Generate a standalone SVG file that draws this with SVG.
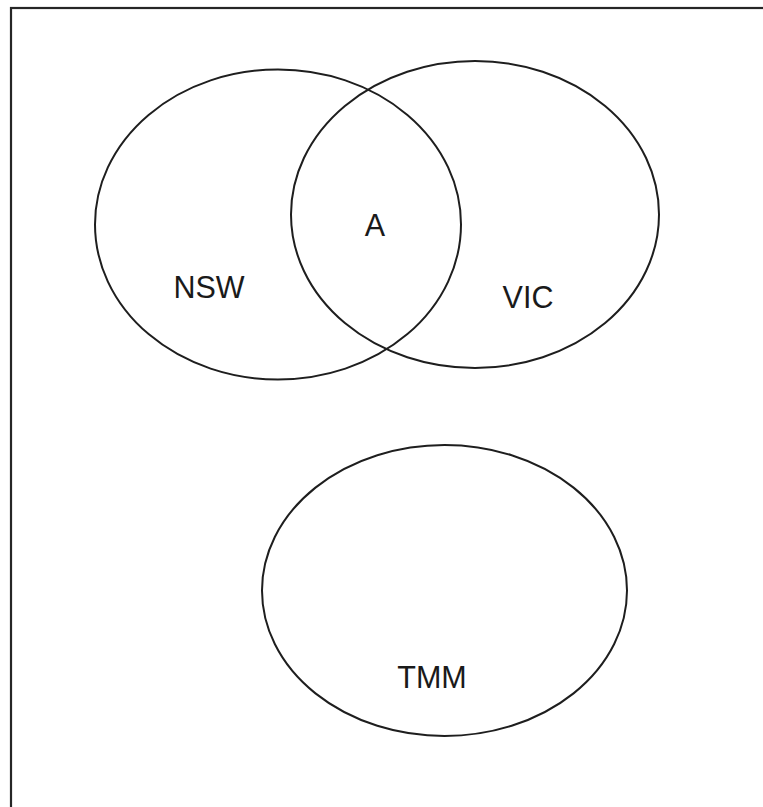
<svg xmlns="http://www.w3.org/2000/svg" width="763" height="807" viewBox="0 0 763 807">
  <style>
    .frame { fill: #ffffff; stroke: #262626; stroke-width: 2.2; }
    .set { fill: none; stroke: #1e1e1e; stroke-width: 2; }
    .label { font-family: "Liberation Sans", Arial, sans-serif; font-size: 30.5px; fill: #1a1a1a; text-anchor: middle; }
  </style>
  <rect width="763" height="807" fill="#ffffff"/>
  <!-- outer frame, open past the right and bottom edges -->
  <rect class="frame" x="11" y="8" width="780" height="820"/>

  <g id="nsw">
    <ellipse class="set" cx="278" cy="224.5" rx="183" ry="155"/>
    <text class="label" x="209" y="297.5">NSW</text>
  </g>
  <g id="vic">
    <ellipse class="set" cx="475" cy="214.5" rx="184" ry="153.5"/>
    <text class="label" x="528" y="307.5">VIC</text>
  </g>
  <g id="overlap">
    <text class="label" x="375" y="235.5">A</text>
  </g>
  <g id="tmm">
    <ellipse class="set" cx="444.5" cy="590.5" rx="182.5" ry="145.5"/>
    <text class="label" x="432" y="687.5">TMM</text>
  </g>
  <g id="connectors"/>
</svg>
